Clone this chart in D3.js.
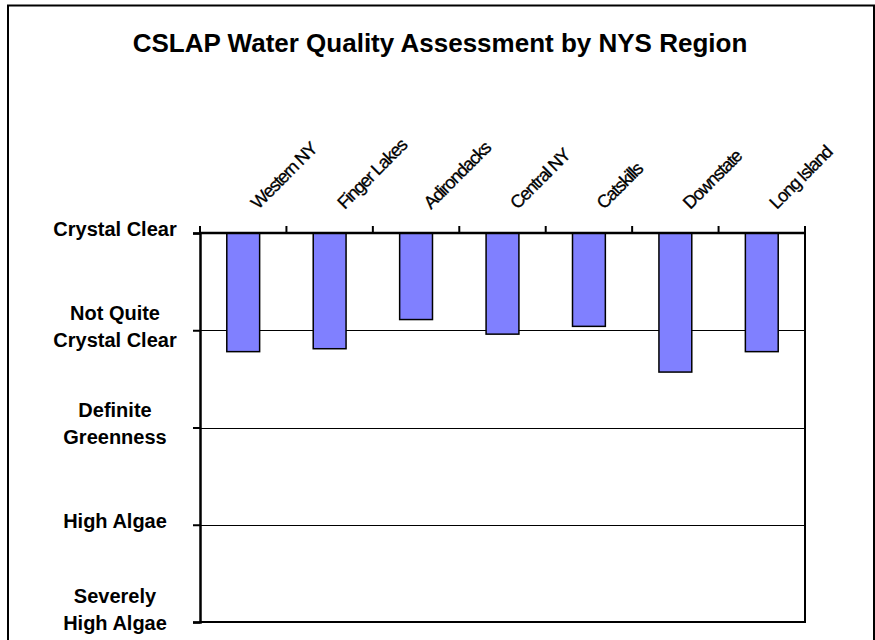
<!DOCTYPE html>
<html>
<head>
<meta charset="utf-8">
<script src="https://cdn.jsdelivr.net/npm/d3@7"></script>
<style>
  html, body { margin: 0; padding: 0; background: #fff; }
  svg { display: block; }
  text { font-family: Arial, "Liberation Sans", sans-serif; fill: #000; }
</style>
</head>
<body>
<script>
// Regions along the category axis
const regions = ["Western NY", "Finger Lakes", "Adirondacks", "Central NY", "Catskills", "Downstate", "Long Island"];
// Average assessment score per region (1 = Crystal Clear ... 5 = Severely High Algae)
const scores = [2.22, 2.19, 1.89, 2.04, 1.96, 2.43, 2.22];
// Value-axis levels and their labels
const levelValues = [1, 2, 3, 4, 5];
const levelLabels = [
  ["Crystal Clear"],
  ["Not Quite", "Crystal Clear"],
  ["Definite", "Greenness"],
  ["High Algae"],
  ["Severely", "High Algae"]
];
const chartTitle = "CSLAP Water Quality Assessment by NYS Region";

const W = 875, H = 640;
const plot = { left: 200, right: 805, top: 233, bottom: 622 };

const svg = d3.select("body").append("svg")
  .attr("width", W).attr("height", H);

// outer chart frame
svg.append("rect")
  .attr("x", 8).attr("y", 5.5)
  .attr("width", 866).attr("height", 660)
  .attr("fill", "none").attr("stroke", "#000").attr("stroke-width", 2);

// title
svg.append("text")
  .attr("x", 440).attr("y", 52)
  .attr("text-anchor", "middle")
  .attr("font-size", 26).attr("font-weight", "bold")
  .text(chartTitle);

// scales: value axis reversed (1 at the top), categories across
const y = d3.scaleLinear().domain([1, 5]).range([plot.top, plot.bottom]);
const xCat = d3.scaleBand().domain(regions).range([plot.left, plot.right]).padding(0);
const barPad = 0.62;
const xBar = d3.scaleBand().domain(regions).range([plot.left, plot.right])
  .paddingInner(barPad).paddingOuter(barPad / 2);

// horizontal gridlines
svg.append("g").selectAll("line")
  .data(levelValues.slice(1, -1))
  .join("line")
  .attr("x1", plot.left).attr("x2", plot.right)
  .attr("y1", d => Math.round(y(d)) + 0.5).attr("y2", d => Math.round(y(d)) + 0.5)
  .attr("stroke", "#000").attr("stroke-width", 1);

// plot-area border (right + bottom)
svg.append("path")
  .attr("d", `M${plot.right},${plot.top}V${plot.bottom}H${plot.left}`)
  .attr("fill", "none").attr("stroke", "#000").attr("stroke-width", 2);

// bars hanging from the top axis
svg.append("g").selectAll("rect")
  .data(regions.map((r, i) => ({ r, v: scores[i] })))
  .join("rect")
  .attr("x", d => xBar(d.r))
  .attr("y", y(1))
  .attr("width", xBar.bandwidth())
  .attr("height", d => y(d.v) - y(1))
  .attr("fill", "#8080FF")
  .attr("stroke", "#000").attr("stroke-width", 1.5);

// left value axis with custom multi-line labels
const yAxis = d3.axisLeft(y).tickValues(levelValues).tickSize(7).tickFormat("");
const gy = svg.append("g").attr("transform", `translate(${plot.left},0)`).call(yAxis);
gy.select(".domain").attr("stroke-width", 2.5);
gy.selectAll(".tick line").attr("stroke-width", 2);

const lineH = 27;
const maxBaseline = 630; // keep the lowest label inside the frame
const labelG = svg.append("g");
levelValues.forEach((v, i) => {
  const lines = levelLabels[i];
  const cy = y(v) - 4;
  let first = cy - (lines.length - 1) / 2 * lineH + 7;
  const last = first + (lines.length - 1) * lineH;
  if (last > maxBaseline) first -= last - maxBaseline;
  const t = labelG.append("text")
    .attr("x", 115)
    .attr("text-anchor", "middle")
    .attr("font-size", 20).attr("font-weight", "bold");
  lines.forEach((ln, j) => {
    t.append("tspan")
      .attr("x", 115)
      .attr("y", first + j * lineH)
      .text(ln);
  });
});

// top category axis: ticks at category boundaries
const gx = svg.append("g").attr("transform", `translate(0,${plot.top})`);
gx.append("line")
  .attr("x1", plot.left - 1).attr("x2", plot.right + 1)
  .attr("y1", 0).attr("y2", 0)
  .attr("stroke", "#000").attr("stroke-width", 2.5);
const bounds = regions.map(r => xCat(r)).concat([plot.right]);
gx.selectAll("line.tk")
  .data(bounds)
  .join("line").attr("class", "tk")
  .attr("x1", d => d).attr("x2", d => d)
  .attr("y1", -7).attr("y2", 0)
  .attr("stroke", "#000").attr("stroke-width", 2);

// rotated category labels
gx.selectAll("text.cat")
  .data(regions)
  .join("text").attr("class", "cat")
  .attr("transform", d => `translate(${xCat(d) + xCat.bandwidth() / 2 + 15},-23) rotate(-45)`)
  .attr("font-size", 18)
  .attr("letter-spacing", -1.2)
  .attr("stroke", "#000").attr("stroke-width", 0.3)
  .text(d => d);
</script>
</body>
</html>
